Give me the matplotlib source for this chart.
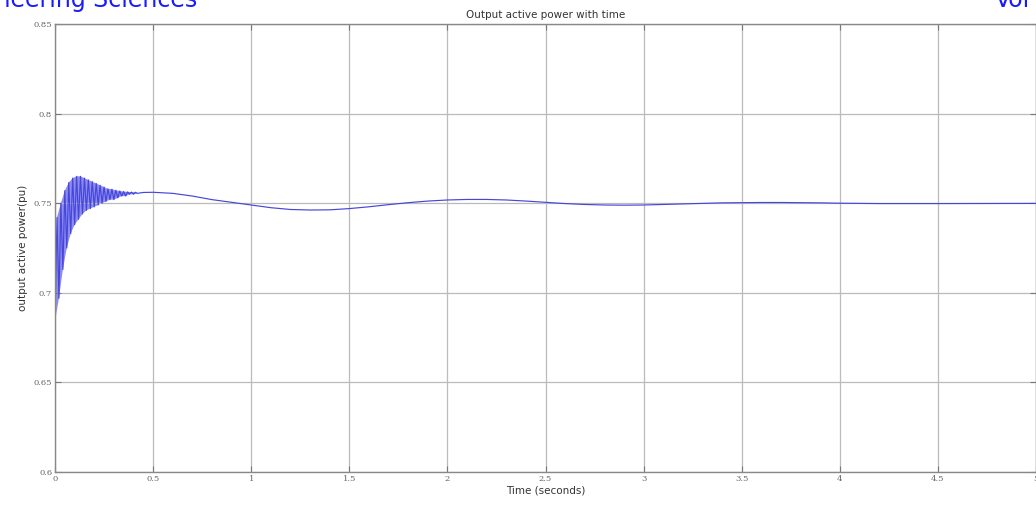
import numpy as np
import matplotlib.pyplot as plt

# fast oscillation at start: troughs and peaks
t_low = [0.00, 0.02, 0.04, 0.06, 0.08, 0.10, 0.12, 0.14, 0.16, 0.18, 0.20,
         0.22, 0.24, 0.26, 0.28, 0.30, 0.32, 0.34, 0.36, 0.38, 0.40, 0.42]
p_low = [0.684, 0.697, 0.713, 0.725, 0.733, 0.738, 0.741, 0.744, 0.746, 0.747, 0.748,
         0.749, 0.750, 0.751, 0.752, 0.752, 0.753, 0.754, 0.754, 0.755, 0.755, 0.7555]
t_high = [0.01, 0.03, 0.05, 0.07, 0.09, 0.11, 0.13, 0.15, 0.17, 0.19, 0.21,
          0.23, 0.25, 0.27, 0.29, 0.31, 0.33, 0.35, 0.37, 0.39, 0.41]
p_high = [0.742, 0.750, 0.757, 0.7615, 0.764, 0.765, 0.765, 0.764, 0.763, 0.762, 0.761,
          0.760, 0.759, 0.758, 0.7578, 0.7572, 0.7568, 0.7565, 0.7563, 0.7562, 0.7561]

# slow settling part
t_slow = [0.45, 0.5, 0.6, 0.7, 0.8, 0.9, 1.0, 1.1, 1.2, 1.3, 1.4, 1.5, 1.6, 1.7,
          1.8, 1.9, 2.0, 2.1, 2.2, 2.3, 2.4, 2.5, 2.6, 2.7, 2.8, 2.9, 3.0, 3.1,
          3.2, 3.3, 3.4, 3.5, 3.6, 3.7, 3.8, 3.9, 4.0, 4.2, 4.5, 5.0]
p_slow = [0.7560, 0.7561, 0.7555, 0.7540, 0.7520, 0.7505, 0.7490, 0.7475, 0.7465,
          0.7462, 0.7463, 0.7470, 0.7480, 0.7492, 0.7503, 0.7512, 0.7518, 0.7521,
          0.7521, 0.7518, 0.7512, 0.7505, 0.7498, 0.7493, 0.7490, 0.7489, 0.7490,
          0.7493, 0.7496, 0.7499, 0.7502, 0.7503, 0.7504, 0.7504, 0.7503, 0.7502,
          0.7500, 0.7498, 0.7498, 0.7499]

x_ticks = [0, 0.5, 1, 1.5, 2, 2.5, 3, 3.5, 4, 4.5, 5]
x_labels = ["0", "0.5", "1", "1.5", "2", "2.5", "3", "3.5", "4", "4.5", "5"]
y_ticks = [0.6, 0.65, 0.7, 0.75, 0.8, 0.85]
y_labels = ["0.6", "0.65", "0.7", "0.75", "0.8", "0.85"]

# zigzag: alternate trough, peak, trough, ...
t_zig, p_zig = [], []
for i in range(len(t_low)):
    t_zig.append(t_low[i]); p_zig.append(p_low[i])
    if i < len(t_high):
        t_zig.append(t_high[i]); p_zig.append(p_high[i])
t = np.array(t_zig + t_slow)
p = np.array(p_zig + p_slow)

fig = plt.figure(figsize=(10.36, 5.13), dpi=100)
ax = fig.add_axes([0.0531, 0.0799, 0.9469, 0.8733])

# band between the envelopes (the oscillation is too dense to resolve)
ax.fill(t_high + t_low[::-1], p_high + p_low[::-1], color="#8c8cee", lw=0)
ax.plot(t, p, color="#4646dc", linewidth=0.85)

ax.set_xlim(0, 5)
ax.set_ylim(0.6, 0.85)
ax.set_xticks(x_ticks)
ax.set_xticklabels(x_labels, fontsize=6, color="#666666", family="DejaVu Serif")
ax.set_yticks(y_ticks)
ax.set_yticklabels(y_labels, fontsize=6, color="#666666", family="DejaVu Serif")
ax.tick_params(direction="in", length=4, color="#777777", top=True, right=True, pad=2)
ax.grid(True, color="#bbbbbb", linewidth=0.9)
for s in ax.spines.values():
    s.set_color("#888888")
    s.set_linewidth(1.0)

ax.set_title("Output active power with time", fontsize=7.5, color="#333333", pad=4)
ax.set_xlabel("Time (seconds)", fontsize=7.5, color="#333333", labelpad=2)
ax.set_ylabel("output active power(pu)", fontsize=7.5, color="#333333", labelpad=4)

# cropped page header text
fig.text(0.19, 0.986, "Engineering Sciences", fontsize=17, color="#1a1aff",
         ha="right", va="baseline")
fig.text(0.9604, 0.986, "Vol", fontsize=17, color="#1a1aff", va="baseline")

fig.savefig("out.png", dpi=100)
